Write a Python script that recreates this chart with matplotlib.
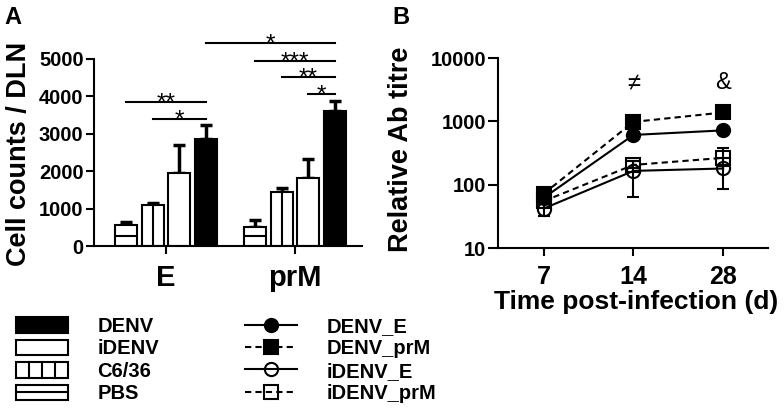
import matplotlib
matplotlib.use("Agg")
import matplotlib.pyplot as plt
import numpy as np
from matplotlib.patches import Patch, Rectangle
from matplotlib.lines import Line2D
from matplotlib.legend_handler import HandlerBase

plt.rcParams['font.family'] = ['Liberation Sans', 'DejaVu Sans']

# ---------------- data: panel A ----------------
antigens = ["E", "prM"]
groups = ["PBS", "C6/36", "iDENV", "DENV"]          # left to right in each cluster
counts = {"PBS":   [550, 510],
          "C6/36": [1090, 1450],
          "iDENV": [1950, 1830],
          "DENV":  [2860, 3610]}
counts_err = {"PBS":   [80, 180],
              "C6/36": [60, 90],
              "iDENV": [750, 500],
              "DENV":  [370, 270]}
# (antigen idx, group, antigen idx, group, bracket height, label)
brackets = [(0, "PBS", 0, "DENV", 3850, "**"),
            (0, "C6/36", 0, "DENV", 3400, "*"),
            (0, "DENV", 1, "DENV", 5430, "*"),
            (1, "PBS", 1, "DENV", 4950, "***"),
            (1, "C6/36", 1, "DENV", 4520, "**"),
            (1, "iDENV", 1, "DENV", 4060, "*")]

# ---------------- data: panel B ----------------
days = ["7", "14", "28"]
series = ["DENV_E", "DENV_prM", "iDENV_E", "iDENV_prM"]
titre = {"DENV_E":    [62, 610, 720],
         "DENV_prM":  [72, 980, 1380],
         "iDENV_E":   [42, 165, 180],
         "iDENV_prM": [55, 205, 265]}
titre_lo = {"DENV_E":    [58, 560, 680],
            "DENV_prM":  [66, 900, 1300],
            "iDENV_E":   [32, 65, 85],
            "iDENV_prM": [50, 180, 200]}
titre_hi = {"DENV_E":    [66, 660, 760],
            "DENV_prM":  [80, 1060, 1460],
            "iDENV_E":   [50, 240, 260],
            "iDENV_prM": [62, 240, 380]}
day_marks = ["", "\u2260", "&"]

W, H = 784, 417
fig = plt.figure(figsize=(W / 100, H / 100), dpi=100)

# ================================
# Panel A - bars
# ================================
axA = fig.add_axes([94 / W, 1 - 246 / H, (362 - 94) / W, (246 - 59) / H])
step = 0.2077
width = 0.17
x = np.arange(len(antigens))
pos = {}
for i, g in enumerate(groups):
    xs = x + (i - 1.5) * step
    pos[g] = xs
    face = "black" if g == "DENV" else "white"
    axA.bar(xs, counts[g], width, color=face, edgecolor="black", linewidth=1.5, zorder=2)
    axA.errorbar(xs, counts[g], yerr=[np.zeros(len(xs)), counts_err[g]], fmt="none",
                 ecolor="black", elinewidth=2.5, capsize=4, capthick=2.5, zorder=1)
    if g == "PBS":
        axA.hlines(np.array(counts[g]) / 2, xs - width / 2, xs + width / 2,
                   color="black", linewidth=1.5, zorder=3)
    if g == "C6/36":
        axA.vlines(xs, 0, counts[g], color="black", linewidth=1.5, zorder=3)

# significance brackets
for a1, g1, a2, g2, yb, lab in brackets:
    x1, x2 = pos[g1][a1], pos[g2][a2]
    axA.plot([x1, x2], [yb, yb], color="black", lw=1.5, clip_on=False)
    axA.annotate(lab, xy=((x1 + x2) / 2, yb), xytext=(0, -5.5), textcoords="offset points",
                 ha="center", va="baseline", fontsize=17.5, annotation_clip=False)

axA.set_xlim(-0.558, 1.52)
axA.set_ylim(0, 5000)
axA.set_yticks(np.arange(0, 5001, 1000))
axA.set_xticks(x)
axA.set_xticklabels(antigens, fontsize=21, fontweight="bold")
axA.tick_params(axis="y", labelsize=14.5, length=6, width=1.5, pad=1.5)
axA.tick_params(axis="x", length=6, width=1.5, pad=7)
for lbl in axA.get_yticklabels():
    lbl.set_fontweight("bold")
axA.set_ylabel("Cell counts / DLN", fontsize=19.5, fontweight="bold")
axA.yaxis.set_label_coords(-0.232, 0.49)
axA.spines[["top", "right"]].set_visible(False)
axA.spines[["left", "bottom"]].set_linewidth(1.5)

# ================================
# Panel B - titres
# ================================
axB = fig.add_axes([498 / W, 1 - 248 / H, (768 - 498) / W, (248 - 58) / H])
xd = np.arange(len(days))
styles = {"DENV_E":    dict(ls="-", marker="o", mfc="black"),
          "DENV_prM":  dict(ls=(0, (3, 2)), marker="s", mfc="black"),
          "iDENV_E":   dict(ls="-", marker="o", mfc="none"),
          "iDENV_prM": dict(ls=(0, (3, 2)), marker="s", mfc="none")}
lines = {}
for s in ["iDENV_E", "iDENV_prM", "DENV_E", "DENV_prM"]:
    v = np.array(titre[s])
    axB.errorbar(xd, v, yerr=[v - np.array(titre_lo[s]), np.array(titre_hi[s]) - v],
                 fmt="none", ecolor="black", elinewidth=1.5, capsize=4, capthick=1.5)
    st = styles[s]
    ln, = axB.plot(xd, v, color="black", lw=1.5, ls=st["ls"], marker=st["marker"],
                   markersize=9.5, markerfacecolor=st["mfc"], markeredgecolor="black",
                   markeredgewidth=1.5, label=s, clip_on=False)
    lines[s] = ln

for xi, m in zip(xd, day_marks):
    axB.text(xi, 4000, m, ha="center", va="center", fontsize=17)

axB.set_yscale("log")
axB.set_ylim(10, 10000)
axB.set_yticks([10, 100, 1000, 10000])
axB.set_yticklabels(["10", "100", "1000", "10000"])
axB.minorticks_off()
axB.set_xlim(-0.51, 2.5)
axB.set_xticks(xd)
axB.set_xticklabels(days, fontsize=18, fontweight="bold")
axB.tick_params(axis="y", labelsize=14.5, length=7, width=1.5, pad=1.5)
axB.tick_params(axis="x", length=6, width=1.5, pad=6)
for lbl in axB.get_yticklabels():
    lbl.set_fontweight("bold")
axB.set_ylabel("Relative Ab titre", fontsize=19.5, fontweight="bold")
axB.yaxis.set_label_coords(-0.312, 0.52)
axB.set_xlabel("Time post-infection (d)", fontsize=19, fontweight="bold")
axB.xaxis.set_label_coords(0.51, -0.22)
axB.spines[["top", "right"]].set_visible(False)
axB.spines[["left", "bottom"]].set_linewidth(1.5)

fig.text(4 / W, 1 - 6 / H, "A", fontsize=17, fontweight="bold", va="top")
fig.text(392 / W, 1 - 6 / H, "B", fontsize=17, fontweight="bold", va="top")


# ================================
# Legends
# ================================
class BoxHandler(HandlerBase):
    def __init__(self, face, divider):
        super().__init__()
        self.face = face
        self.divider = divider

    def create_artists(self, legend, orig_handle, xdescent, ydescent, width, height, fontsize, trans):
        x0, y0 = -xdescent, -ydescent
        arts = [Rectangle((x0, y0), width, height, facecolor=self.face, edgecolor="black",
                          linewidth=1.5, transform=trans)]
        if self.divider == "v":
            for k in (1, 2, 3):
                xx = x0 + width * k / 4
                arts.append(Line2D([xx, xx], [y0, y0 + height], color="black", lw=1.5, transform=trans))
        if self.divider == "h":
            arts.append(Line2D([x0, x0 + width], [y0 + height / 2] * 2, color="black", lw=1.5, transform=trans))
        return arts


leg_groups = ["DENV", "iDENV", "C6/36", "PBS"]
box_style = {"DENV": ("black", None), "iDENV": ("white", None),
             "C6/36": ("white", "v"), "PBS": ("white", "h")}
proxies = [Patch(label=g) for g in leg_groups]
hmap = {p: BoxHandler(*box_style[g]) for p, g in zip(proxies, leg_groups)}
legA = fig.legend(handles=proxies, labels=leg_groups, handler_map=hmap,
                  loc="upper left", bbox_to_anchor=(16 / W, 1 - 317 / H),
                  frameon=False, borderpad=0, borderaxespad=0, handlelength=2.6,
                  handleheight=0.8, handletextpad=1.45, labelspacing=0.17,
                  prop=dict(size=14.5, weight="bold"))

legB = fig.legend(handles=[lines[s] for s in series], labels=series,
                  loc="upper left", bbox_to_anchor=(245 / W, 1 - 317 / H),
                  frameon=False, borderpad=0, borderaxespad=0, handlelength=2.6,
                  handleheight=0.8, handletextpad=1.45, labelspacing=0.17, numpoints=1,
                  prop=dict(size=14.5, weight="bold"))

fig.savefig("out.png", dpi=100)
